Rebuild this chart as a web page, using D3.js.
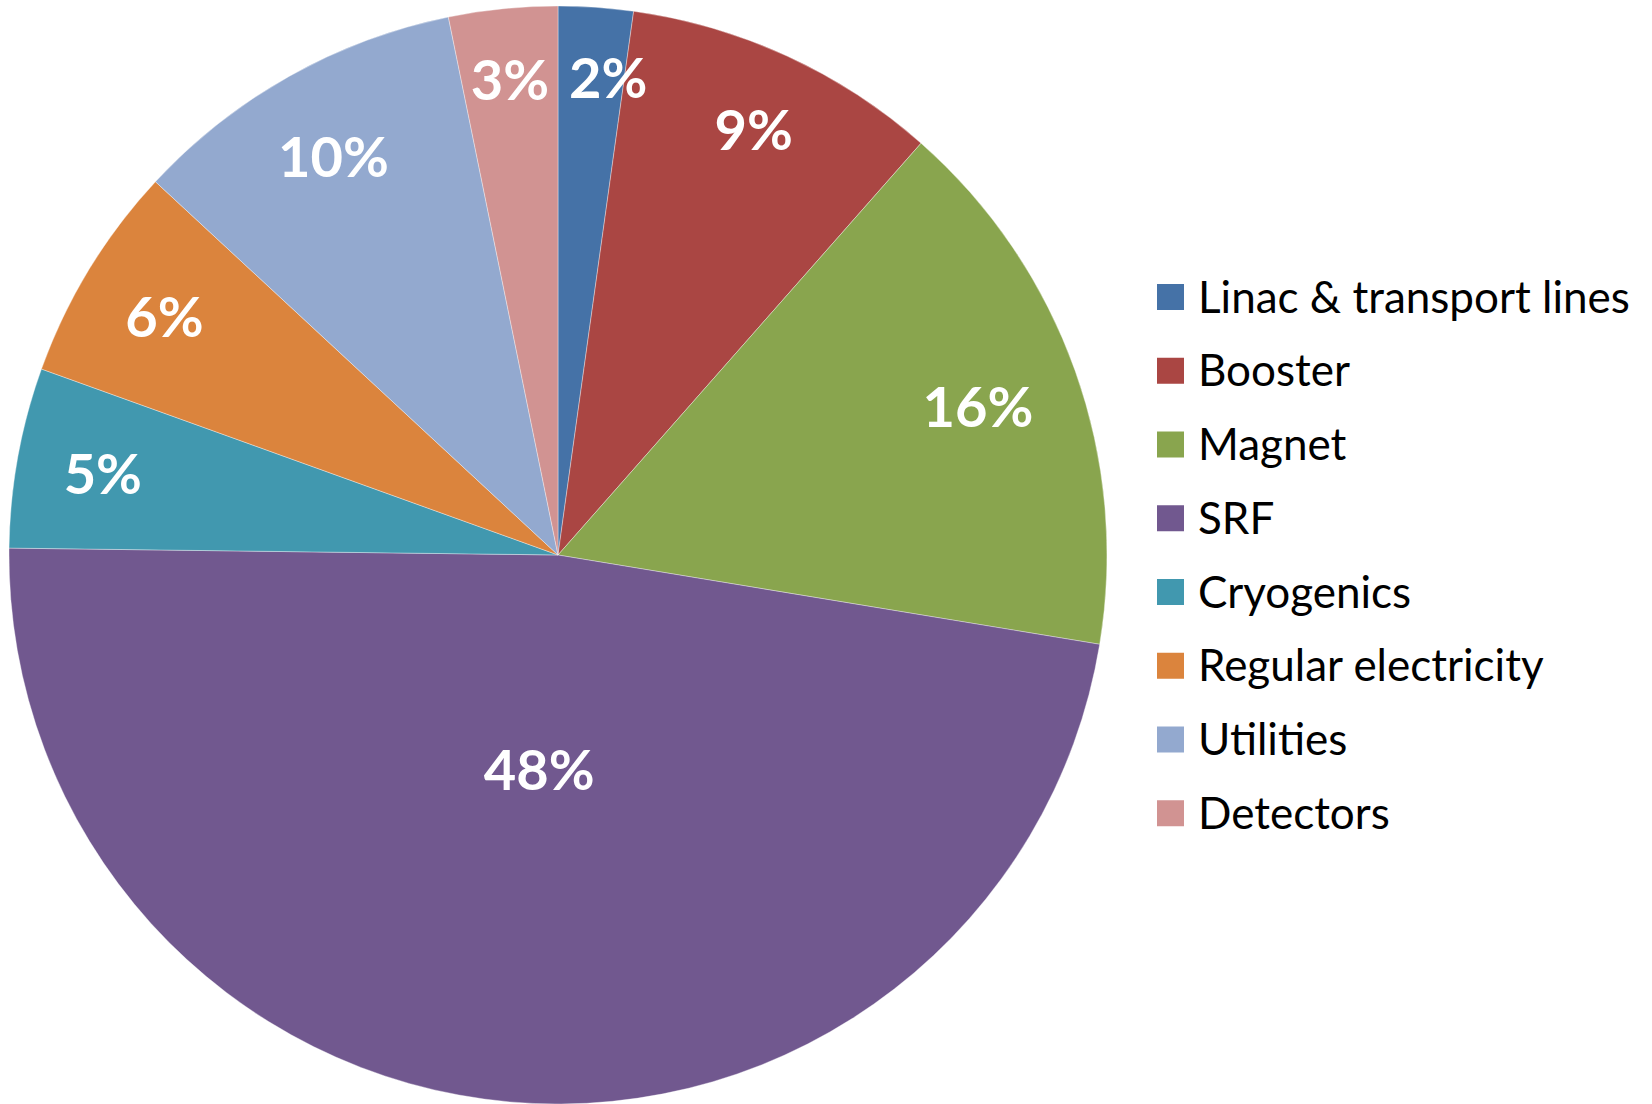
<!DOCTYPE html>
<html>
<head>
<meta charset="utf-8">
<script src="https://cdn.jsdelivr.net/npm/d3@7"></script>
<style>
  html, body { margin: 0; padding: 0; background: #ffffff; }
  svg { display: block; }
</style>
</head>
<body>
<svg id="chart" width="1652" height="1104"></svg>
<script>
// Share of electricity consumption by subsystem (per cent)
const categories = [
  "Linac & transport lines",
  "Booster",
  "Magnet",
  "SRF",
  "Cryogenics",
  "Regular electricity",
  "Utilities",
  "Detectors"
];
const shares = [2.2, 9.3, 16.1, 47.6, 5.3, 6.4, 9.9, 3.2];
const colors = ["#4572A7", "#AA4643", "#89A54E", "#71588F", "#4198AF", "#DB843D", "#93A9CF", "#D19392"];

const cx = 558, cy = 555, R = 549;

const svg = d3.select("#chart");
const total = d3.sum(shares);

const color = d3.scaleOrdinal().domain(categories).range(colors);

const pie = d3.pie().sort(null).value(d => d.value).startAngle(0).endAngle(2 * Math.PI);
const data = categories.map((c, i) => ({ name: c, value: shares[i] }));
const arcs = pie(data);

const arc = d3.arc().innerRadius(0).outerRadius(R);

const g = svg.append("g").attr("transform", `translate(${cx},${cy})`);

g.selectAll("path.slice")
  .data(arcs)
  .enter().append("path")
  .attr("class", "slice")
  .attr("d", arc)
  .attr("fill", d => color(d.data.name))
  .attr("stroke", "#ffffff")
  .attr("stroke-opacity", 0.45)
  .attr("stroke-width", 0.8);

const labels = g.selectAll("text.pct")
  .data(arcs)
  .enter().append("text")
  .attr("class", "pct")
  .attr("text-anchor", "middle")
  .attr("dominant-baseline", "central")
  .attr("font-family", "Lato, 'Open Sans', sans-serif")
  .attr("font-weight", "700")
  .attr("font-size", 56)
  .attr("fill", "#ffffff")
  .text(d => Math.round(d.data.value / total * 100) + "%");

// Place each label along its slice's bisector: the big slice gets its label
// nearer the centre; the others are pushed out until the far corner of the
// label box reaches a fixed inner radius.
const rho = R * 0.92;
const boxH = 42;
const widths = [];
labels.each(function (d, i) { widths[i] = this.getBBox().width; });

const pos = arcs.map((d, i) => {
  const a = (d.startAngle + d.endAngle) / 2;
  const s = Math.sin(a), c = Math.cos(a);
  let t;
  if (d.endAngle - d.startAngle > Math.PI * 0.8) {
    t = R * 0.39;
  } else {
    const w = widths[i];
    const b = w * Math.abs(s) + boxH * Math.abs(c);
    const k = (w * w + boxH * boxH) / 4 - rho * rho;
    t = (-b + Math.sqrt(b * b - 4 * k)) / 2;
  }
  return [t * s, -t * c];
});

// Where neighbouring labels collide, move the one of the smaller slice aside
const pad = 20;
for (let i = 0; i < pos.length; i++) {
  const j = (i + pos.length - 1) % pos.length;
  const a = pos[i], b = pos[j];
  if (Math.abs(a[1] - b[1]) < boxH) {
    const gap = Math.abs(a[0] - b[0]) - (widths[i] + widths[j]) / 2;
    if (gap < pad) {
      const mover = arcs[i].value <= arcs[j].value ? i : j;
      const other = mover === i ? j : i;
      const dir = pos[mover][0] >= pos[other][0] ? 1 : -1;
      pos[mover][0] += dir * (pad - gap);
    }
  }
}
labels.attr("x", (d, i) => pos[i][0]).attr("y", (d, i) => pos[i][1]);

// Legend
const legend = svg.append("g").attr("transform", "translate(1157, 297)");
const rowH = 73.75;
const item = legend.selectAll("g.item")
  .data(categories)
  .enter().append("g")
  .attr("class", "item")
  .attr("transform", (d, i) => `translate(0, ${i * rowH})`);

item.append("rect")
  .attr("x", 0).attr("y", -13)
  .attr("width", 27).attr("height", 26)
  .attr("fill", d => color(d));

item.append("text")
  .attr("x", 41)
  .attr("y", 15.5)
  .attr("font-family", "Lato, 'Open Sans', sans-serif")
  .attr("font-size", 44)
  .attr("fill", "#000000")
  .text(d => d);
</script>
</body>
</html>
